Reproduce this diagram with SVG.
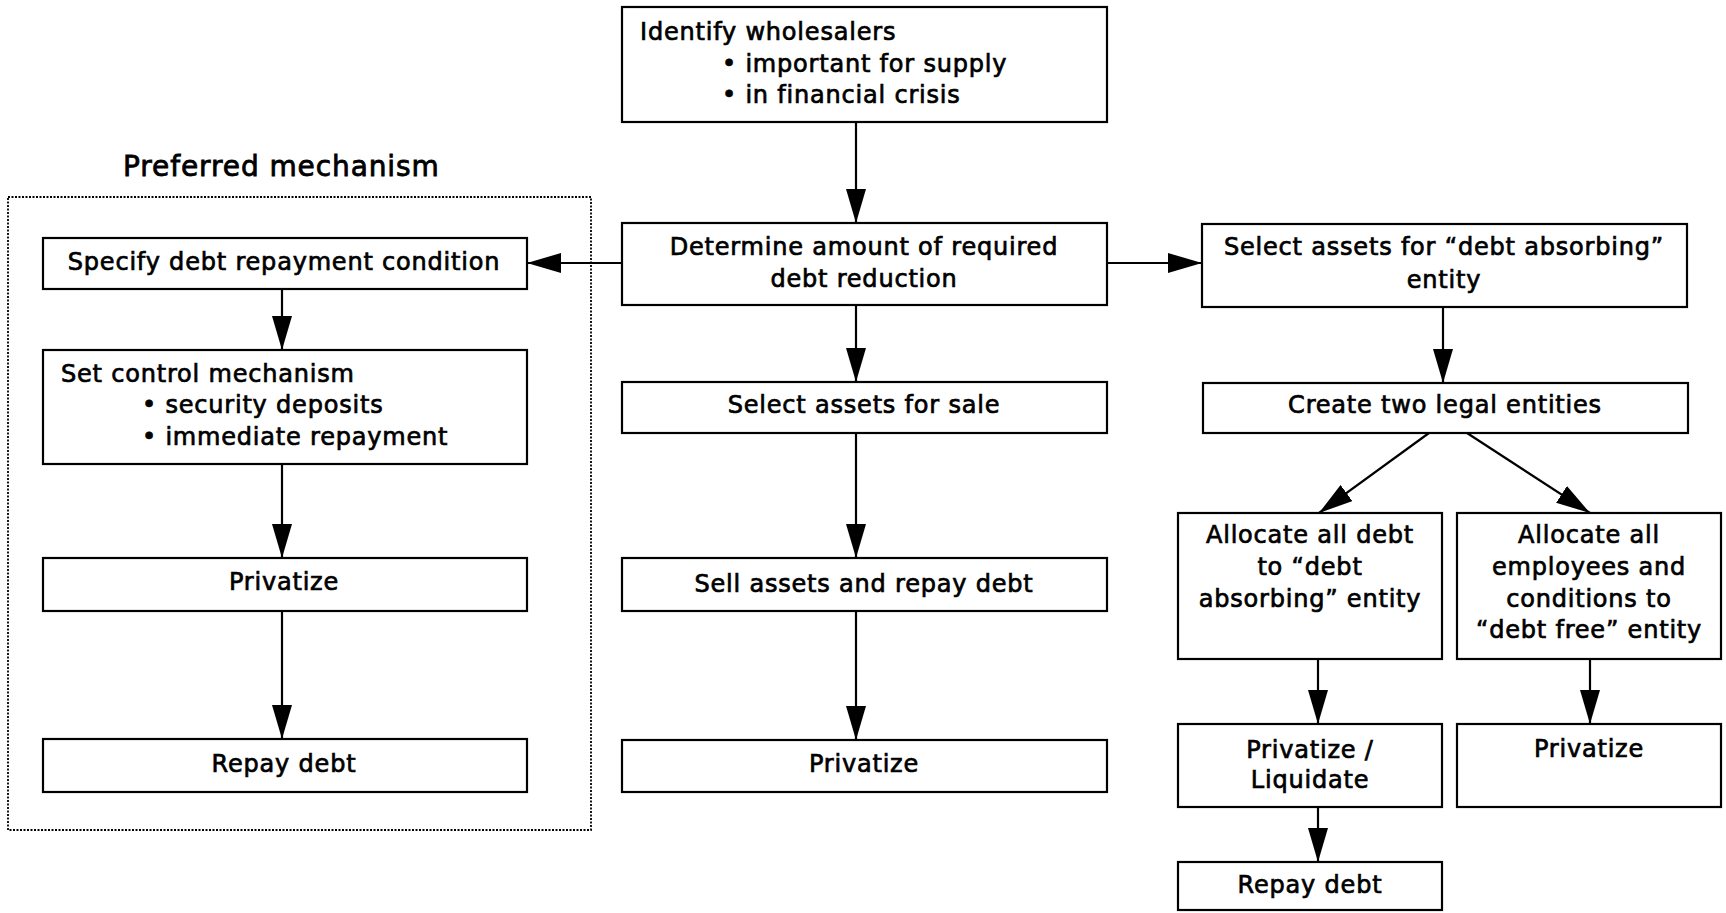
<svg xmlns="http://www.w3.org/2000/svg" width="1726" height="913" viewBox="0 0 1726 913">
<style>
.box{fill:#fff;stroke:#000;stroke-width:2.2}
.t{font-family:"DejaVu Sans",sans-serif;font-size:24px;letter-spacing:0.8px;fill:#000;stroke:#000;stroke-width:0.7px}
.c{text-anchor:middle}
.title{font-family:"DejaVu Sans",sans-serif;font-size:28px;letter-spacing:0.9px;fill:#000;stroke:#000;stroke-width:0.8px}
.ln{stroke:#000;stroke-width:2.2;fill:none;marker-end:url(#ah)}
.dot{fill:none;stroke:#000;stroke-width:1.8;stroke-dasharray:2 1.5}
</style>
<defs>
<marker id="ah" viewBox="0 0 34 20" refX="34" refY="10" markerWidth="34" markerHeight="20" markerUnits="userSpaceOnUse" orient="auto">
<path d="M0,0 L34,10 L0,20 z" fill="#000"/>
</marker>
</defs>

<g id="preferred-group">
<text class="title" x="123" y="176">Preferred mechanism</text>
<rect class="dot" x="8" y="197" width="583" height="633"/>
</g>

<g id="connectors">
<line class="ln" x1="856" y1="122" x2="856" y2="223"/>
<line class="ln" x1="622" y1="263" x2="527" y2="263"/>
<line class="ln" x1="1107" y1="263" x2="1202" y2="263"/>
<line class="ln" x1="282" y1="289" x2="282" y2="350"/>
<line class="ln" x1="282" y1="464" x2="282" y2="558"/>
<line class="ln" x1="282" y1="611" x2="282" y2="739"/>
<line class="ln" x1="856" y1="305" x2="856" y2="382"/>
<line class="ln" x1="856" y1="433" x2="856" y2="558"/>
<line class="ln" x1="856" y1="611" x2="856" y2="740"/>
<line class="ln" x1="1443" y1="307" x2="1443" y2="383"/>
<line class="ln" x1="1429" y1="433" x2="1319" y2="513"/>
<line class="ln" x1="1467" y1="433" x2="1590" y2="513"/>
<line class="ln" x1="1318" y1="659" x2="1318" y2="724"/>
<line class="ln" x1="1590" y1="659" x2="1590" y2="724"/>
<line class="ln" x1="1318" y1="807" x2="1318" y2="862"/>
</g>

<g id="identify">
<rect class="box" x="622" y="7" width="485" height="115"/>
<text class="t" x="640" y="40">Identify wholesalers</text>
<text class="t" x="722" y="72">• important for supply</text>
<text class="t" x="722" y="103">• in financial crisis</text>
</g>

<g id="determine">
<rect class="box" x="622" y="223" width="485" height="82"/>
<text class="t c" x="864" y="255">Determine amount of required</text>
<text class="t c" x="864" y="287">debt reduction</text>
</g>

<g id="specify">
<rect class="box" x="43" y="238" width="484" height="51"/>
<text class="t c" x="284" y="270">Specify debt repayment condition</text>
</g>

<g id="set-control">
<rect class="box" x="43" y="350" width="484" height="114"/>
<text class="t" x="61" y="382">Set control mechanism</text>
<text class="t" x="142" y="413">• security deposits</text>
<text class="t" x="142" y="445">• immediate repayment</text>
</g>

<g id="privatize-left">
<rect class="box" x="43" y="558" width="484" height="53"/>
<text class="t c" x="284" y="590">Privatize</text>
</g>

<g id="repay-left">
<rect class="box" x="43" y="739" width="484" height="53"/>
<text class="t c" x="284" y="772">Repay debt</text>
</g>

<g id="select-sale">
<rect class="box" x="622" y="382" width="485" height="51"/>
<text class="t c" x="864" y="413">Select assets for sale</text>
</g>

<g id="sell-assets">
<rect class="box" x="622" y="558" width="485" height="53"/>
<text class="t c" x="864" y="592">Sell assets and repay debt</text>
</g>

<g id="privatize-center">
<rect class="box" x="622" y="740" width="485" height="52"/>
<text class="t c" x="864" y="772">Privatize</text>
</g>

<g id="select-absorbing">
<rect class="box" x="1202" y="224" width="485" height="83"/>
<text class="t c" x="1444" y="255">Select assets for “debt absorbing”</text>
<text class="t c" x="1444" y="288">entity</text>
</g>

<g id="create-entities">
<rect class="box" x="1203" y="383" width="485" height="50"/>
<text class="t c" x="1445" y="413">Create two legal entities</text>
</g>

<g id="allocate-debt">
<rect class="box" x="1178" y="513" width="264" height="146"/>
<text class="t c" x="1310" y="543">Allocate all debt</text>
<text class="t c" x="1310" y="575">to “debt</text>
<text class="t c" x="1310" y="607">absorbing” entity</text>
</g>

<g id="allocate-employees">
<rect class="box" x="1457" y="513" width="264" height="146"/>
<text class="t c" x="1589" y="543">Allocate all</text>
<text class="t c" x="1589" y="575">employees and</text>
<text class="t c" x="1589" y="607">conditions to</text>
<text class="t c" x="1589" y="638">“debt free” entity</text>
</g>

<g id="privatize-liquidate">
<rect class="box" x="1178" y="724" width="264" height="83"/>
<text class="t c" x="1310" y="758">Privatize /</text>
<text class="t c" x="1310" y="788">Liquidate</text>
</g>

<g id="privatize-right">
<rect class="box" x="1457" y="724" width="264" height="83"/>
<text class="t c" x="1589" y="757">Privatize</text>
</g>

<g id="repay-right">
<rect class="box" x="1178" y="862" width="264" height="48"/>
<text class="t c" x="1310" y="893">Repay debt</text>
</g>
</svg>
